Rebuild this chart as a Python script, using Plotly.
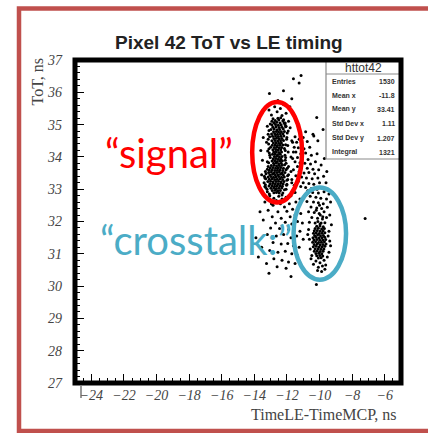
import plotly.graph_objects as go

# ---------------------------------------------------------------
# Pixel 42: ToT vs leading-edge time relative to the MCP reference
# (x = TimeLE - TimeMCP [ns], y = ToT [ns])
# ---------------------------------------------------------------

# dense "signal" population
signal_core = [
    (-12.55, 35.20), (-12.38, 35.21),
    (-12.72, 35.13), (-12.50, 35.14), (-12.25, 35.12),
    (-12.80, 35.06), (-12.62, 35.07), (-12.42, 35.05), (-12.18, 35.06),
    (-12.91, 34.99), (-12.70, 35.00), (-12.53, 34.98), (-12.35, 34.99), (-12.12, 35.00),
    (-12.86, 34.92), (-12.67, 34.93), (-12.48, 34.91), (-12.30, 34.92), (-12.08, 34.93),
    (-12.98, 34.85), (-12.78, 34.86), (-12.60, 34.84), (-12.44, 34.85), (-12.22, 34.86),
    (-12.82, 34.78), (-12.65, 34.79), (-12.51, 34.77), (-12.34, 34.78), (-12.15, 34.79),
    (-12.94, 34.71), (-12.75, 34.72), (-12.58, 34.70), (-12.40, 34.71), (-12.24, 34.72),
    (-12.88, 34.64), (-12.70, 34.65), (-12.53, 34.63), (-12.37, 34.64), (-12.19, 34.65),
    (-12.80, 34.57), (-12.64, 34.58), (-12.47, 34.56), (-12.31, 34.57),
    (-12.92, 34.50), (-12.73, 34.51), (-12.56, 34.49), (-12.39, 34.50), (-12.21, 34.51),
    (-12.83, 34.43), (-12.67, 34.44), (-12.50, 34.42), (-12.34, 34.43),
    (-12.90, 34.36), (-12.72, 34.37), (-12.58, 34.35), (-12.42, 34.36), (-12.25, 34.37),
    (-12.78, 34.29), (-12.63, 34.30), (-12.47, 34.28), (-12.32, 34.29),
    (-12.86, 34.22), (-12.69, 34.23), (-12.54, 34.21), (-12.38, 34.22),
    (-12.81, 34.15), (-12.65, 34.16), (-12.49, 34.14), (-12.33, 34.15),
    (-12.88, 34.08), (-12.72, 34.09), (-12.57, 34.07), (-12.41, 34.08),
    (-12.77, 34.01), (-12.62, 34.02), (-12.46, 34.00), (-12.30, 34.01),
    (-12.84, 33.94), (-12.68, 33.95), (-12.53, 33.93), (-12.37, 33.94),
    (-12.91, 33.87), (-12.75, 33.88), (-12.60, 33.86), (-12.44, 33.87), (-12.28, 33.88),
    (-12.82, 33.80), (-12.66, 33.81), (-12.51, 33.79), (-12.35, 33.80),
    (-12.96, 33.73), (-12.78, 33.74), (-12.63, 33.72), (-12.47, 33.73), (-12.30, 33.74),
    (-13.02, 33.66), (-12.85, 33.67), (-12.69, 33.65), (-12.54, 33.66), (-12.38, 33.67), (-12.21, 33.65),
    (-13.08, 33.59), (-12.90, 33.60), (-12.74, 33.58), (-12.58, 33.59), (-12.42, 33.60), (-12.25, 33.58),
    (-13.12, 33.52), (-12.95, 33.53), (-12.78, 33.51), (-12.62, 33.52), (-12.46, 33.53), (-12.29, 33.51), (-12.12, 33.52),
    (-13.05, 33.45), (-12.88, 33.46), (-12.71, 33.44), (-12.55, 33.45), (-12.39, 33.46), (-12.22, 33.44),
    (-13.15, 33.38), (-12.98, 33.39), (-12.82, 33.37), (-12.66, 33.38), (-12.50, 33.39), (-12.33, 33.37), (-12.16, 33.38),
    (-13.08, 33.31), (-12.91, 33.32), (-12.75, 33.30), (-12.59, 33.31), (-12.43, 33.32), (-12.26, 33.30),
    (-13.17, 33.24), (-13.00, 33.25), (-12.84, 33.23), (-12.67, 33.24), (-12.51, 33.25), (-12.35, 33.23), (-12.18, 33.24),
    (-13.04, 33.17), (-12.87, 33.18), (-12.71, 33.16), (-12.55, 33.17), (-12.39, 33.18), (-12.23, 33.16),
    (-13.10, 33.10), (-12.92, 33.11), (-12.76, 33.09), (-12.60, 33.10), (-12.44, 33.11), (-12.28, 33.09),
    (-12.98, 33.03), (-12.81, 33.04), (-12.65, 33.02), (-12.49, 33.03), (-12.32, 33.04),
    (-12.90, 32.96), (-12.72, 32.97), (-12.56, 32.95), (-12.40, 32.96),
    (-12.80, 32.89), (-12.64, 32.90), (-12.47, 32.88),
]

# ragged edges of the signal population
signal_edge = [
    (-13.02, 35.02), (-12.05, 34.95), (-13.10, 34.82), (-11.98, 34.74), (-13.06, 34.62),
    (-12.02, 34.55), (-13.12, 34.40), (-12.08, 34.38), (-13.00, 34.30), (-12.15, 34.26),
    (-13.08, 34.12), (-12.12, 34.05), (-13.02, 33.98), (-12.10, 33.90), (-13.12, 33.82),
    (-12.14, 33.76), (-13.20, 33.62), (-12.05, 33.60), (-13.28, 33.48), (-11.96, 33.42),
    (-13.30, 33.32), (-12.00, 33.28), (-13.32, 33.14), (-12.02, 33.12), (-13.22, 33.00),
    (-12.15, 32.98), (-13.08, 32.85), (-12.30, 32.82), (-12.85, 35.18), (-12.20, 35.15),
    (-12.92, 35.10), (-12.10, 35.05), (-13.15, 34.55), (-13.18, 34.18), (-11.92, 34.15),
    (-11.90, 33.70), (-13.38, 33.40), (-13.35, 33.08),
]

# sparser points around the signal population
signal_halo = [
    (-13.10, 35.45), (-12.40, 35.50), (-12.05, 35.35), (-12.95, 35.30), (-11.90, 35.10),
    (-13.20, 34.95), (-11.92, 34.80), (-13.15, 34.70), (-12.00, 34.60), (-13.25, 34.45),
    (-11.95, 34.35), (-13.10, 34.25), (-12.10, 34.20), (-13.05, 34.05), (-12.08, 33.98),
    (-13.20, 33.85), (-12.05, 33.80), (-13.15, 33.70), (-11.98, 33.65), (-13.32, 33.55),
    (-11.90, 33.45), (-13.35, 33.35), (-11.95, 33.30), (-13.40, 33.20), (-12.00, 33.15),
    (-13.30, 33.05), (-12.05, 33.00), (-13.20, 32.92), (-12.25, 32.88), (-13.05, 32.80),
    (-12.50, 32.78), (-12.30, 32.70), (-12.80, 32.72), (-12.65, 32.62), (-12.95, 32.55),
    (-12.40, 32.55), (-13.45, 34.60), (-13.50, 33.90), (-11.80, 34.90), (-11.75, 34.00),
    (-11.75, 33.55), (-13.55, 32.95), (-12.75, 35.55), (-12.20, 35.62), (-11.82, 35.55),
    (-13.60, 34.20), (-13.55, 33.45), (-11.70, 33.20), (-11.65, 34.45), (-12.60, 35.40),
    (-12.30, 35.28),
    (-11.60, 36.42), (-11.13, 36.52), (-11.25, 36.29), (-13.07, 35.96), (-12.21, 36.05),
    (-10.17, 35.22), (-9.78, 34.85), (-12.55, 35.75), (-11.70, 35.80),
]

# diagonal band joining the two populations
bridge = [
    (-11.50, 34.62), (-11.25, 34.55), (-11.00, 34.60), (-11.40, 34.45), (-11.10, 34.40),
    (-10.75, 34.48), (-11.55, 34.30), (-11.30, 34.28), (-10.95, 34.25), (-10.60, 34.30),
    (-11.45, 34.15), (-11.15, 34.10), (-10.85, 34.12), (-10.50, 34.05), (-11.35, 33.98),
    (-11.05, 33.95), (-10.70, 33.92), (-11.50, 33.85), (-11.20, 33.82), (-10.90, 33.80),
    (-10.55, 33.78), (-11.35, 33.70), (-11.10, 33.66), (-10.75, 33.65), (-10.40, 33.62),
    (-11.25, 33.55), (-10.95, 33.50), (-10.65, 33.52), (-10.30, 33.48), (-11.45, 33.42),
    (-11.10, 33.38), (-10.80, 33.35), (-10.45, 33.32), (-10.10, 33.35), (-11.30, 33.25),
    (-11.00, 33.20), (-10.65, 33.18), (-10.35, 33.15), (-10.00, 33.20), (-11.15, 33.08),
    (-10.85, 33.05), (-10.50, 33.02), (-10.15, 33.00), (-9.85, 33.05), (-11.55, 33.12),
    (-11.70, 33.30), (-11.60, 33.60), (-11.65, 33.95), (-11.60, 34.15), (-10.25, 33.85),
    (-10.05, 33.60), (-9.75, 33.40), (-9.60, 33.20), (-9.90, 33.75), (-10.15, 34.10),
    (-11.20, 34.75), (-10.85, 34.78), (-10.40, 34.70), (-10.35, 34.65), (-10.10, 34.50),
    (-11.70, 34.50), (-9.55, 33.55), (-9.70, 33.95),
]

# dense "crosstalk" population
crosstalk_core = [
    (-10.17, 31.85), (-9.97, 31.86), (-9.77, 31.84),
    (-10.27, 31.78), (-10.07, 31.79), (-9.87, 31.77), (-9.70, 31.78),
    (-10.32, 31.71), (-10.14, 31.72), (-9.96, 31.70), (-9.78, 31.71),
    (-10.37, 31.64), (-10.20, 31.65), (-10.02, 31.63), (-9.84, 31.64), (-9.67, 31.65),
    (-10.30, 31.57), (-10.12, 31.58), (-9.94, 31.56), (-9.76, 31.57),
    (-10.40, 31.50), (-10.22, 31.51), (-10.04, 31.49), (-9.86, 31.50), (-9.68, 31.51),
    (-10.34, 31.43), (-10.16, 31.44), (-9.98, 31.42), (-9.80, 31.43), (-9.62, 31.44),
    (-10.42, 31.36), (-10.24, 31.37), (-10.06, 31.35), (-9.88, 31.36), (-9.70, 31.37),
    (-10.32, 31.29), (-10.14, 31.30), (-9.96, 31.28), (-9.78, 31.29), (-9.60, 31.30),
    (-10.38, 31.22), (-10.20, 31.23), (-10.02, 31.21), (-9.84, 31.22), (-9.67, 31.23),
    (-10.27, 31.15), (-10.09, 31.16), (-9.91, 31.14), (-9.73, 31.15),
    (-10.32, 31.08), (-10.14, 31.09), (-9.96, 31.07), (-9.78, 31.08),
    (-10.22, 31.01), (-10.04, 31.02), (-9.86, 31.00),
    (-10.17, 30.94), (-9.98, 30.95), (-9.80, 30.93),
    (-10.07, 30.87), (-9.90, 30.88),
]

# sparser points around the crosstalk population
crosstalk_halo = [
    (-10.72, 32.95), (-10.42, 32.90), (-10.07, 32.88), (-9.72, 32.92), (-9.42, 32.85),
    (-10.57, 32.78), (-10.22, 32.75), (-9.92, 32.72), (-9.57, 32.70), (-10.77, 32.62),
    (-10.37, 32.60), (-10.07, 32.58), (-9.77, 32.55), (-9.32, 32.60), (-10.52, 32.45),
    (-10.17, 32.42), (-9.87, 32.40), (-9.52, 32.44), (-10.67, 32.30), (-10.32, 32.28),
    (-10.02, 32.25), (-9.72, 32.30), (-9.37, 32.20), (-10.47, 32.12), (-10.12, 32.10),
    (-9.82, 32.08), (-9.57, 32.12), (-10.62, 31.98), (-10.27, 31.95), (-9.97, 31.92),
    (-9.67, 31.96), (-9.27, 31.90),
    (-10.00, 32.50), (-9.95, 32.20), (-10.10, 32.00), (-9.90, 31.95), (-10.20, 32.35),
    (-9.80, 32.15),
    (-10.67, 31.75), (-10.62, 31.45), (-10.57, 31.15), (-10.52, 30.85), (-9.42, 31.70),
    (-9.37, 31.40), (-9.42, 31.05), (-9.32, 31.25), (-10.72, 31.60), (-9.47, 31.55),
    (-10.22, 30.78), (-9.97, 30.72), (-9.72, 30.80), (-10.37, 30.68), (-9.82, 30.62),
    (-10.07, 30.58), (-9.62, 30.65), (-10.12, 30.48), (-9.87, 30.45), (-10.19, 30.05),
    (-9.52, 30.90), (-10.47, 30.95), (-9.67, 30.52),
    (-7.20, 32.09),
]

# low-ToT tail at earlier times
early_tail = [
    (-13.05, 32.70), (-12.65, 32.65), (-12.05, 32.75), (-11.75, 32.80), (-11.50, 32.90),
    (-13.35, 32.60), (-12.85, 32.50), (-12.15, 32.45), (-11.85, 32.55), (-11.45, 32.60),
    (-11.20, 32.70), (-13.15, 32.35), (-12.55, 32.30), (-12.00, 32.32), (-11.65, 32.38),
    (-11.35, 32.40), (-12.90, 32.15), (-12.35, 32.10), (-11.80, 32.15), (-11.50, 32.20),
    (-11.15, 32.25), (-13.45, 32.05), (-12.70, 31.95), (-12.10, 31.98), (-11.70, 31.92),
    (-11.35, 32.00), (-11.05, 31.95), (-13.00, 31.80), (-12.45, 31.78), (-11.90, 31.75),
    (-11.55, 31.80), (-11.20, 31.70), (-13.20, 31.60), (-12.65, 31.55), (-12.20, 31.60),
    (-11.75, 31.50), (-11.40, 31.55), (-11.00, 31.45), (-12.85, 31.35), (-12.35, 31.30),
    (-11.95, 31.32), (-11.60, 31.25), (-11.25, 31.20), (-13.55, 31.20), (-13.05, 31.10),
    (-12.55, 31.05), (-12.10, 31.08), (-11.70, 31.00), (-11.35, 30.95), (-12.80, 30.85),
    (-12.30, 30.80), (-11.90, 30.75), (-11.50, 30.70), (-13.25, 30.70), (-12.60, 30.60),
    (-12.05, 30.55), (-13.75, 30.90), (-13.90, 31.50), (-13.65, 32.30), (-13.10, 30.40),
    (-11.75, 30.30),
]

# statistics panel contents
stats_name = "httot42"
stats_labels = ["Entries", "Mean x", "Mean y", "Std Dev x", "Std Dev y", "Integral"]
stats_values = ["1530", "-11.8", "33.41", "1.11", "1.207", "1321"]

# region outlines (x0, x1, y0, y1) in data units
signal_region = (-14.13, -11.07, 32.59, 35.70)
crosstalk_region = (-11.59, -8.37, 30.20, 33.05)

all_points = (signal_core + signal_edge + signal_halo + bridge
              + crosstalk_core + crosstalk_halo + early_tail)
xs = [p[0] for p in all_points]
ys = [p[1] for p in all_points]

W, H = 428, 433
ML, MR, MT, MB = 75, 27, 60, 50
PW, PH = W - ML - MR, H - MT - MB


def px(x):
    return (x - ML) / PW


def py(y):
    return (H - MB - y) / PH


fig = go.Figure()
fig.add_trace(go.Scatter(
    x=xs, y=ys, mode="markers",
    marker=dict(size=3, color="black", line=dict(width=0)),
    hoverinfo="skip", showlegend=False,
))

tick_font = dict(family="Liberation Serif", size=14, color="#444444", style="italic")

fig.update_xaxes(
    range=[-25, -5], tick0=-24, dtick=2, ticks="inside", ticklen=9, tickwidth=1,
    tickcolor="black", showgrid=False, zeroline=False, showline=False,
    tickfont=tick_font, ticklabelstandoff=2,
    minor=dict(dtick=0.5, ticks="inside", ticklen=5, tickcolor="black", showgrid=False),
)
fig.update_yaxes(
    range=[27, 37], dtick=1, ticks="inside", ticklen=9, tickwidth=1,
    tickcolor="black", showgrid=False, zeroline=False, showline=False,
    tickfont=tick_font, ticklabelstandoff=12,
    minor=dict(dtick=0.2, ticks="inside", ticklen=5, tickcolor="black", showgrid=False),
)

shapes = []
# slide border
shapes.append(dict(type="rect", xref="paper", yref="paper",
                   x0=px(19), x1=px(450), y0=py(431), y1=py(8.5),
                   line=dict(color="#C0504D", width=4.5), layer="above"))
# region outlines
sx0, sx1, sy0, sy1 = signal_region
shapes.append(dict(type="circle", xref="x", yref="y", x0=sx0, x1=sx1, y0=sy0, y1=sy1,
                   line=dict(color="#FF0000", width=4.5), layer="above"))
cx0, cx1, cy0, cy1 = crosstalk_region
shapes.append(dict(type="circle", xref="x", yref="y", x0=cx0, x1=cx1, y0=cy0, y1=cy1,
                   line=dict(color="#4BACC6", width=4.5), layer="above"))
# statistics box
shapes.append(dict(type="rect", xref="paper", yref="paper",
                   x0=px(326), x1=1, y0=py(159), y1=1,
                   fillcolor="white", line=dict(color="#8a8a8a", width=1.2), layer="above"))
shapes.append(dict(type="line", xref="paper", yref="paper",
                   x0=px(326), x1=1, y0=py(74), y1=py(74),
                   line=dict(color="#8a8a8a", width=1), layer="above"))
# thick frame
shapes.append(dict(type="rect", xref="paper", yref="paper", x0=0, x1=1, y0=0, y1=1,
                   line=dict(color="black", width=5), layer="above"))
# small marker line under the first x label
shapes.append(dict(type="line", xref="paper", yref="paper",
                   x0=px(81), x1=px(81), y0=py(386), y1=py(398),
                   line=dict(color="#555555", width=1.2), layer="above"))

ann = []
ann.append(dict(text="<b>Pixel 42 ToT vs LE timing</b>", x=px(229), y=py(42.5),
                xref="paper", yref="paper", xanchor="center", yanchor="middle",
                showarrow=False, font=dict(family="Liberation Sans", size=19, color="#222222")))
ann.append(dict(text="ToT, ns", x=px(37), y=py(82.5), xref="paper", yref="paper",
                xanchor="center", yanchor="middle", textangle=-90, showarrow=False,
                font=dict(family="Liberation Serif", size=16, color="#444444")))
ann.append(dict(text="TimeLE-TimeMCP, ns", x=px(399), y=py(414), xref="paper", yref="paper",
                xanchor="right", yanchor="middle", showarrow=False,
                font=dict(family="Liberation Serif", size=16, color="#444444")))
ann.append(dict(text="\u201csignal\u201d", x=px(169), y=py(153), xref="paper", yref="paper",
                xanchor="center", yanchor="middle", showarrow=False,
                font=dict(family="Lato", size=40, color="#FF0000")))
ann.append(dict(text="\u201ccrosstalk:\u201d", x=px(196), y=py(240), xref="paper", yref="paper",
                xanchor="center", yanchor="middle", showarrow=False,
                font=dict(family="Lato", size=40, color="#4BACC6")))
ann.append(dict(text=stats_name, x=px(363), y=py(68), xref="paper", yref="paper",
                xanchor="center", yanchor="middle", showarrow=False,
                font=dict(family="Liberation Sans", size=12, color="#333333")))
row_y = [81.5, 95, 109, 123.5, 138, 152]
for lab, val, ry in zip(stats_labels, stats_values, row_y):
    ann.append(dict(text=f"<b>{lab}</b>", x=px(330), y=py(ry), xref="paper", yref="paper",
                    xanchor="left", yanchor="middle", showarrow=False,
                    font=dict(family="Liberation Sans", size=7, color="#333333")))
    ann.append(dict(text=f"<b>{val}</b>", x=px(397), y=py(ry), xref="paper", yref="paper",
                    xanchor="right", yanchor="middle", showarrow=False,
                    font=dict(family="Liberation Sans", size=7, color="#333333")))

fig.update_layout(
    width=W, height=H, margin=dict(l=ML, r=MR, t=MT, b=MB),
    paper_bgcolor="white", plot_bgcolor="white",
    shapes=shapes, annotations=ann, showlegend=False,
)

fig.write_html("out.html", include_plotlyjs=True, config={"displayModeBar": False})
